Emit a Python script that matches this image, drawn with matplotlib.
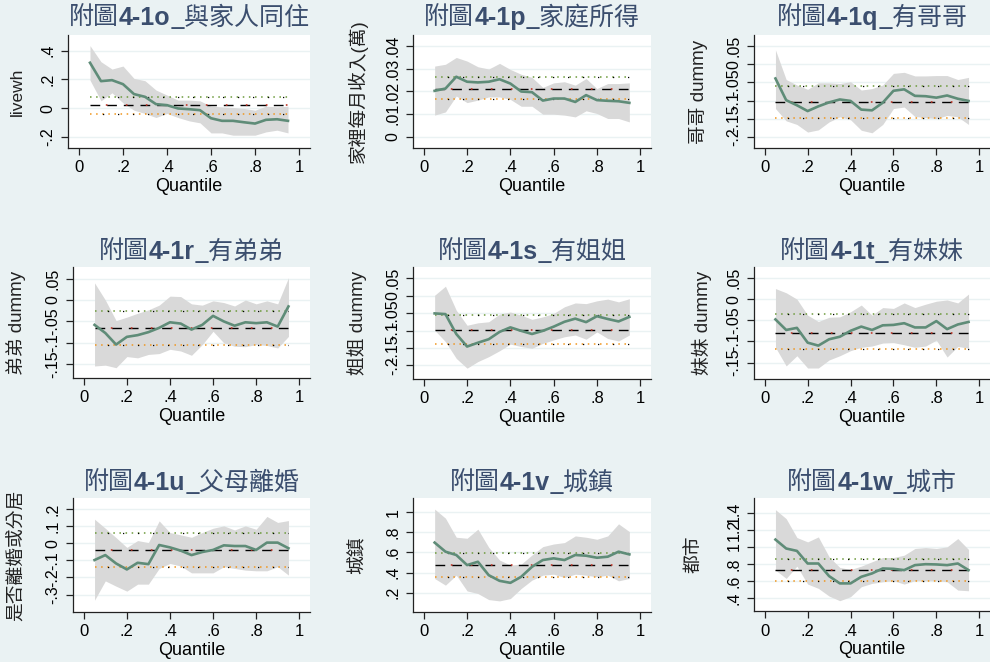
import matplotlib

matplotlib.use("Agg")
import matplotlib.pyplot as plt
import numpy as np

BG = "#EAF2F3"
BAND = "#D9D9D9"
EST = "#5F8C78"
TITLE_C = "#3B4E6E"
LAT = "Liberation Sans"
CJK = "Noto Sans CJK TC"

quantiles = np.round(np.arange(0.05, 0.951, 0.05), 2)

titles = [
    ("附圖", "4-1o", "_與家人同住"),
    ("附圖", "4-1p", "_家庭所得"),
    ("附圖", "4-1q", "_有哥哥"),
    ("附圖", "4-1r", "_有弟弟"),
    ("附圖", "4-1s", "_有姐姐"),
    ("附圖", "4-1t", "_有妹妹"),
    ("附圖", "4-1u", "_父母離婚"),
    ("附圖", "4-1v", "_城鎮"),
    ("附圖", "4-1w", "_城市"),
]
ylabels = ["livewh", "家裡每月收入(萬)", "哥哥 dummy",
           "弟弟 dummy", "姐姐 dummy", "妹妹 dummy",
           "是否離婚或分居", "城鎮", "都市"]

# quantile regression coefficient, lower and upper CI
est_o = [0.316, 0.188, 0.195, 0.167, 0.098, 0.079, 0.028, 0.021, -0.002, -0.007, -0.014, -0.070, -0.088, -0.088, -0.098, -0.107, -0.081, -0.077, -0.088]
lo_o = [0.195, 0.051, 0.107, 0.037, -0.014, -0.037, -0.065, -0.037, -0.065, -0.088, -0.102, -0.172, -0.172, -0.188, -0.188, -0.188, -0.165, -0.153, -0.172]
hi_o = [0.435, 0.323, 0.272, 0.293, 0.207, 0.191, 0.126, 0.091, 0.056, 0.056, 0.051, 0.014, 0.009, 0.005, -0.002, -0.014, 0.014, 0.009, 0.014]

est_p = [0.0203, 0.0213, 0.0265, 0.0243, 0.0240, 0.0243, 0.0254, 0.0235, 0.0200, 0.0197, 0.0160, 0.0169, 0.0169, 0.0154, 0.0184, 0.0162, 0.0159, 0.0157, 0.0150]
lo_p = [0.0096, 0.0110, 0.0180, 0.0151, 0.0162, 0.0176, 0.0176, 0.0165, 0.0135, 0.0135, 0.0100, 0.0100, 0.0096, 0.0088, 0.0115, 0.0103, 0.0081, 0.0081, 0.0066]
hi_p = [0.0312, 0.0320, 0.0350, 0.0334, 0.0309, 0.0299, 0.0324, 0.0297, 0.0276, 0.0262, 0.0218, 0.0238, 0.0243, 0.0228, 0.0257, 0.0213, 0.0235, 0.0235, 0.0238]

est_q = [-0.039, -0.099, -0.113, -0.129, -0.116, -0.105, -0.097, -0.101, -0.125, -0.127, -0.106, -0.073, -0.069, -0.087, -0.088, -0.092, -0.086, -0.095, -0.101]
lo_q = [-0.122, -0.156, -0.166, -0.187, -0.181, -0.159, -0.145, -0.153, -0.182, -0.189, -0.166, -0.122, -0.118, -0.144, -0.147, -0.150, -0.141, -0.145, -0.166]
hi_q = [0.040, -0.042, -0.057, -0.069, -0.051, -0.051, -0.053, -0.048, -0.071, -0.067, -0.057, -0.025, -0.022, -0.032, -0.032, -0.031, -0.031, -0.042, -0.036]

est_r = [-0.058, -0.077, -0.104, -0.086, -0.082, -0.075, -0.065, -0.052, -0.055, -0.069, -0.058, -0.037, -0.050, -0.060, -0.052, -0.054, -0.052, -0.062, -0.015]
lo_r = [-0.154, -0.152, -0.158, -0.132, -0.135, -0.127, -0.125, -0.115, -0.119, -0.129, -0.104, -0.073, -0.100, -0.108, -0.109, -0.104, -0.106, -0.112, -0.085]
hi_r = [0.040, 0.000, -0.048, -0.040, -0.031, -0.023, -0.012, 0.009, 0.008, -0.009, -0.012, -0.002, -0.006, -0.014, 0.000, -0.009, -0.002, -0.009, 0.052]

est_s = [-0.051, -0.053, -0.110, -0.146, -0.135, -0.125, -0.104, -0.091, -0.101, -0.110, -0.101, -0.089, -0.075, -0.066, -0.076, -0.059, -0.067, -0.074, -0.061]
lo_s = [-0.099, -0.132, -0.180, -0.208, -0.189, -0.175, -0.158, -0.139, -0.146, -0.151, -0.137, -0.127, -0.118, -0.113, -0.125, -0.104, -0.123, -0.130, -0.113]
hi_s = [0.001, 0.027, -0.042, -0.085, -0.078, -0.075, -0.053, -0.047, -0.056, -0.068, -0.061, -0.051, -0.032, -0.021, -0.023, -0.015, -0.010, -0.018, -0.009]

est_t = [-0.048, -0.073, -0.068, -0.103, -0.110, -0.095, -0.089, -0.075, -0.065, -0.073, -0.062, -0.061, -0.057, -0.067, -0.067, -0.052, -0.071, -0.060, -0.054]
lo_t = [-0.114, -0.158, -0.134, -0.163, -0.163, -0.144, -0.134, -0.122, -0.114, -0.111, -0.104, -0.103, -0.108, -0.114, -0.111, -0.097, -0.137, -0.112, -0.116]
hi_t = [0.025, 0.015, 0.000, -0.038, -0.053, -0.043, -0.042, -0.030, -0.014, -0.038, -0.020, -0.022, -0.009, -0.020, -0.012, -0.005, -0.002, -0.009, 0.012]

est_u = [-0.098, -0.069, -0.118, -0.153, -0.114, -0.122, -0.010, -0.024, -0.043, -0.069, -0.051, -0.039, -0.012, -0.016, -0.016, -0.039, 0.004, 0.004, -0.029]
lo_u = [-0.333, -0.220, -0.251, -0.280, -0.239, -0.239, -0.147, -0.118, -0.133, -0.173, -0.173, -0.173, -0.137, -0.147, -0.157, -0.161, -0.161, -0.137, -0.186]
hi_u = [0.141, 0.088, 0.033, -0.024, 0.016, 0.004, 0.131, 0.063, 0.049, 0.035, 0.063, 0.088, 0.102, 0.078, 0.102, 0.082, 0.157, 0.122, 0.133]

est_v = [0.698, 0.608, 0.575, 0.475, 0.508, 0.375, 0.319, 0.299, 0.359, 0.458, 0.525, 0.542, 0.525, 0.575, 0.568, 0.548, 0.558, 0.608, 0.581]
lo_v = [0.342, 0.276, 0.375, 0.219, 0.193, 0.133, 0.120, 0.143, 0.243, 0.326, 0.375, 0.385, 0.352, 0.385, 0.375, 0.359, 0.375, 0.319, 0.342]
hi_v = [1.030, 0.940, 0.751, 0.741, 0.831, 0.651, 0.525, 0.475, 0.485, 0.575, 0.658, 0.684, 0.698, 0.764, 0.751, 0.731, 0.764, 0.884, 0.807]

est_w = [1.085, 0.981, 0.953, 0.806, 0.806, 0.659, 0.574, 0.574, 0.651, 0.690, 0.748, 0.744, 0.729, 0.787, 0.798, 0.795, 0.787, 0.806, 0.729]
lo_w = [0.729, 0.632, 0.775, 0.566, 0.516, 0.426, 0.372, 0.419, 0.535, 0.574, 0.593, 0.605, 0.566, 0.605, 0.605, 0.605, 0.593, 0.496, 0.488]
hi_w = [1.434, 1.329, 1.109, 1.058, 1.116, 0.884, 0.760, 0.736, 0.775, 0.826, 0.876, 0.876, 0.903, 0.981, 0.992, 0.981, 1.000, 1.097, 0.969]

est_all = [est_o, est_p, est_q, est_r, est_s, est_t, est_u, est_v, est_w]
lo_all = [lo_o, lo_p, lo_q, lo_r, lo_s, lo_t, lo_u, lo_v, lo_w]
hi_all = [hi_o, hi_p, hi_q, hi_r, hi_s, hi_t, hi_u, hi_v, hi_w]

# OLS coefficient with its CI
ols_b = [0.019, 0.0213, -0.103, -0.065, -0.098, -0.079, -0.039, 0.478, 0.733]
ols_lo = [-0.042, 0.0166, -0.147, -0.106, -0.139, -0.119, -0.141, 0.352, 0.601]
ols_hi = [0.079, 0.0262, -0.060, -0.025, -0.057, -0.035, 0.063, 0.598, 0.853]

yticks = [
    [-0.2, 0, 0.2, 0.4],
    [0, 0.01, 0.02, 0.03, 0.04],
    [-0.2, -0.15, -0.1, -0.05, 0, 0.05],
    [-0.15, -0.1, -0.05, 0, 0.05],
    [-0.2, -0.15, -0.1, -0.05, 0, 0.05],
    [-0.15, -0.1, -0.05, 0, 0.05],
    [-0.3, -0.2, -0.1, 0, 0.1, 0.2],
    [0.2, 0.4, 0.6, 0.8, 1],
    [0.4, 0.6, 0.8, 1, 1.2, 1.4],
]
ylims = [(-0.277, 0.509), (-0.0049, 0.0449), (-0.231, 0.081),
         (-0.182, 0.077), (-0.239, 0.082), (-0.189, 0.076),
         (-0.402, 0.265), (0.010, 1.140), (0.252, 1.570)]
xticks = [0, 0.2, 0.4, 0.6, 0.8, 1]

# plot regions in pixels: left, top, right, bottom
boxes = [(68, 35, 310, 148), (413, 35, 651, 148), (754, 35, 990, 148),
         (73, 267, 310, 378), (413, 267, 651, 379), (754, 267, 990, 379),
         (73, 498, 310, 612), (413, 498, 651, 612), (754, 498, 990, 611)]
ylabel_x = [17, 358, 698, 16, 357, 702, 17, 358, 695]
title_y = [18, 252, 483]

W, H = 990, 662


def stata_fmt(v):
    if v == 0:
        return "0"
    s = f"{v:g}"
    return s.replace("0.", ".")


def draw_title(fig, renderer, cx, cy, parts):
    specs = [dict(family=[CJK], weight="normal"),
             dict(family=[LAT], weight="bold"),
             dict(family=[CJK], weight="normal")]
    texts = []
    for part, spec in zip(parts, specs):
        t = fig.text(0, 1 - cy / H, part, fontsize=18, color=TITLE_C,
                     va="center", ha="left", **spec)
        texts.append(t)
    widths = [t.get_window_extent(renderer).width for t in texts]
    x = cx - sum(widths) / 2
    for t, w in zip(texts, widths):
        t.set_x(x / W)
        x += w


def main():
    fig = plt.figure(figsize=(9.9, 6.62), dpi=100)
    fig.patch.set_facecolor(BG)
    renderer = fig.canvas.get_renderer()

    for i in range(9):
        l, t, r, b = boxes[i]
        ax = fig.add_axes([l / W, 1 - b / H, (r - l) / W, (b - t) / H])
        ax.set_facecolor("white")
        for s in ["top", "right"]:
            ax.spines[s].set_visible(False)
        for s in ["left", "bottom"]:
            ax.spines[s].set_color("#222222")
            ax.spines[s].set_linewidth(0.9)

        q = quantiles
        ax.fill_between(q, lo_all[i], hi_all[i], color=BAND, lw=0, zorder=2)
        ax.plot(q, est_all[i], color=EST, lw=1.9, zorder=4)

        x0, x1 = q[0], q[-1]
        # OLS estimate
        ax.plot([x0, x1], [ols_b[i]] * 2, color="black", lw=1.0,
                linestyle=(0, (7, 5)), zorder=3)
        ax.plot([x0, x1], [ols_b[i]] * 2, color="#C0392B", lw=1.2,
                linestyle=(2.5, (1, 11)), zorder=3)
        # OLS CI
        ax.plot([x0, x1], [ols_hi[i]] * 2, color="#6C9A3A", lw=1.1,
                linestyle=(0, (1, 3)), zorder=3)
        ax.plot([x0, x1], [ols_hi[i]] * 2, color="black", lw=0.9,
                linestyle=(2, (1, 11)), zorder=3)
        ax.plot([x0, x1], [ols_lo[i]] * 2, color="#F0961E", lw=1.1,
                linestyle=(0, (1, 3)), zorder=3)
        ax.plot([x0, x1], [ols_lo[i]] * 2, color="black", lw=0.9,
                linestyle=(2, (1, 11)), zorder=3)

        ax.set_xlim(-0.05, 1.05)
        ax.set_ylim(*ylims[i])
        ax.set_xticks(xticks)
        ax.set_xticklabels([stata_fmt(v) for v in xticks], family=LAT, fontsize=12)
        ax.set_yticks(yticks[i])
        ax.set_yticklabels([stata_fmt(v) for v in yticks[i]], family=LAT,
                           fontsize=11.5, rotation=90, va="center")
        ax.tick_params(axis="both", direction="out", length=5, width=0.9,
                       colors="#222222", pad=4)
        ax.tick_params(axis="both", labelcolor="black")
        ax.yaxis.grid(True, color=BG, lw=1.0, zorder=1)
        ax.set_axisbelow(True)
        ax.set_xlabel("Quantile", family=LAT, fontsize=13, labelpad=1.5)

        fsize = 12.5 if ylabels[i] == "livewh" else 13.5
        fig.text(ylabel_x[i] / W, 1 - ((t + b) / 2) / H, ylabels[i],
                 rotation=90, ha="center", va="center", fontsize=fsize,
                 family=[LAT, CJK], color="#222222")

        draw_title(fig, renderer, (l + r) / 2, title_y[i // 3], titles[i])

    fig.savefig("out.png", dpi=100, facecolor=BG)


if __name__ == "__main__":
    main()
